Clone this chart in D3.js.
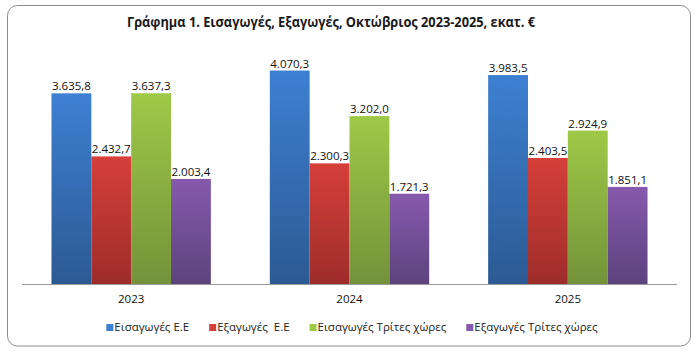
<!DOCTYPE html>
<html><head><meta charset="utf-8">
<script src="https://cdn.jsdelivr.net/npm/d3@7"></script>
<style>
html,body{margin:0;padding:0;background:#fff;}
svg{display:block;font-family:"Open Sans","Noto Sans",sans-serif;}
</style></head>
<body>
<svg id="chart" width="698" height="353"></svg>
<script>
const title = "Γράφημα 1. Εισαγωγές, Εξαγωγές, Οκτώβριος 2023-2025, εκατ. €";
const years = ["2023", "2024", "2025"];
const seriesNames = ["Εισαγωγές Ε.Ε", "Εξαγωγές  Ε.Ε", "Εισαγωγές Τρίτες χώρες", "Εξαγωγές Τρίτες χώρες"];
const importsEU = [3635.8, 4070.3, 3983.5];
const exportsEU = [2432.7, 2300.3, 2403.5];
const importsThird = [3637.3, 3202.0, 2924.9];
const exportsThird = [2003.4, 1721.3, 1851.1];
const seriesColors = [
  ["#3d80d2", "#2c5a93"],
  ["#d63f3a", "#9e2d2a"],
  ["#9ec947", "#74923a"],
  ["#8659ad", "#5c437e"]
];

const seriesValues = [importsEU, exportsEU, importsThird, exportsThird];
const svg = d3.select("#chart");

// border
svg.append("rect").attr("x", 7.5).attr("y", 5.5).attr("width", 683).attr("height", 340.5)
  .attr("rx", 10).attr("fill", "#fff").attr("stroke", "#8c8c8c").attr("stroke-width", 1);

// gradients
const defs = svg.append("defs");
seriesColors.forEach((c, i) => {
  const g = defs.append("linearGradient").attr("id", "g" + i)
    .attr("x1", 0).attr("y1", 0).attr("x2", 0).attr("y2", 1);
  g.append("stop").attr("offset", "0%").attr("stop-color", c[0]);
  g.append("stop").attr("offset", "100%").attr("stop-color", c[1]);
});

// title
svg.append("text").attr("x", 331).attr("y", 27).attr("text-anchor", "middle")
  .attr("font-size", 14).attr("font-weight", "bold").attr("fill", "#1a1a1a")
  .attr("textLength", 408).attr("lengthAdjust", "spacingAndGlyphs")
  .text(title);

const x0 = d3.scaleBand().domain(years).range([22, 677]).paddingInner(0.27).paddingOuter(0.135);
const x1 = d3.scaleBand().domain(d3.range(seriesNames.length)).range([0, x0.bandwidth()]);
const y = d3.scaleLinear().domain([0, 4500]).range([284, 48]);

const fmt = d3.formatLocale({decimal: ",", thousands: ".", grouping: [3], currency: ["", "€"]}).format(",.1f");

const groups = svg.append("g").selectAll("g").data(years).join("g")
  .attr("transform", d => `translate(${x0(d)},0)`);

groups.each(function(yr, yi) {
  const g = d3.select(this);
  seriesValues.forEach((vals, si) => {
    const v = vals[yi];
    g.append("rect").attr("x", x1(si)).attr("y", y(v))
      .attr("width", x1.bandwidth()).attr("height", y(0) - y(v))
      .attr("fill", `url(#g${si})`);
    g.append("text").attr("x", x1(si) + x1.bandwidth() / 2).attr("y", y(v) - 3)
      .attr("text-anchor", "middle").attr("font-size", 11.5).attr("fill", "#111")
      .text(fmt(v));
  });
});

// baseline axis
const xAxis = d3.axisBottom(x0).tickSize(0).tickPadding(11);
const ax = svg.append("g").attr("transform", "translate(0,284)").call(xAxis);
ax.select(".domain").attr("stroke", "#9a9a9a").attr("d", "M22,0.5H677");
ax.selectAll("text").attr("font-size", 11.5).attr("fill", "#111").attr("font-family", "\"Open Sans\",sans-serif");

// legend
const legend = svg.append("g");
const items = legend.selectAll("g").data(seriesNames).join("g");
items.append("rect").attr("width", 7).attr("height", 7).attr("y", -7)
  .attr("fill", (d, i) => seriesColors[i][0]);
items.append("text").attr("x", 8).attr("y", 0).attr("font-size", 11.5).attr("fill", "#222")
  .style("white-space", "pre").text(d => d);
let cx = 0;
const pos = [];
items.each(function() {
  pos.push(cx);
  const w = d3.select(this).select("text").node().getComputedTextLength();
  cx += 8 + w + 20;
});
const total = cx - 20;
const start = 352 - total / 2;
items.attr("transform", (d, i) => `translate(${start + pos[i]},331)`);
</script>
</body></html>
